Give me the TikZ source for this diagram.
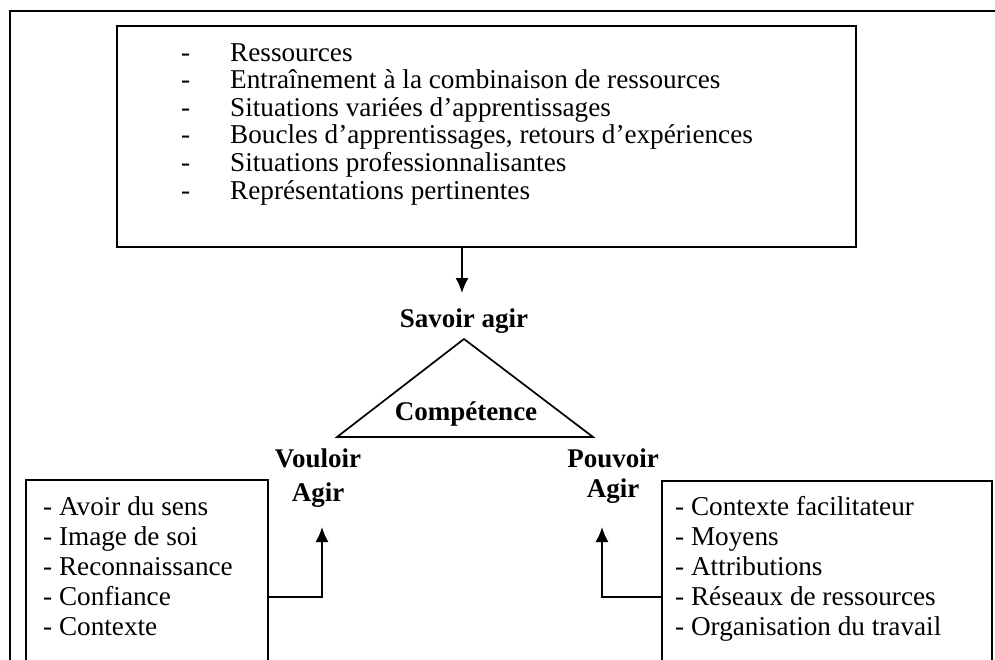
\documentclass[tikz,border=0pt]{standalone}
\usepackage{fontspec}
\setmainfont{Liberation Serif}
\usetikzlibrary{arrows.meta, positioning}

\tikzset{
  box/.style={draw, line width=1.7pt, anchor=north west, inner sep=0pt},
  lab/.style={font=\bfseries\fontsize{27}{34}\selectfont, inner sep=0pt, anchor=base},
  list/.style={font=\fontsize{27.2}{30}\selectfont, inner sep=0pt, anchor=base west},
  arr/.style={line width=1.7pt, -{Latex[length=15pt, width=13pt]}}
}

\begin{document}
\begin{tikzpicture}[x=1pt, y=-1pt]
\useasboundingbox (0,0) rectangle (995,659);
\clip (0,0) rectangle (995,659);

% outer frame
\draw[line width=2pt] (10,11) rectangle (1020,700);

% ressources
\node[box, minimum width=739pt, minimum height=221pt] (res) at (116,25) {};
\node[list, font=\fontsize{27.2}{27.6}\selectfont] (reslist) at (181,61)
  {\begin{tabular}[t]{@{}l@{\hspace{40pt}}l@{}}
   - & Ressources\\
   - & Entraînement à la combinaison de ressources\\
   - & Situations variées d’apprentissages\\
   - & Boucles d’apprentissages, retours d’expériences\\
   - & Situations professionnalisantes\\
   - & Représentations pertinentes
   \end{tabular}};

% triangle
\node[lab] (savoir) at (464,327) {Savoir agir};
\coordinate (in) at (462,293);
\draw[arr] (res.south -| in) -- (in);
\coordinate (apex) at (464,339);
\coordinate (bl) at (337,437);
\coordinate (br) at (593,437);
\draw[line width=1.7pt] (apex) -- (bl) -- (br) -- cycle;
\node[lab] (comp) at (466,420) {Compétence};

\node[lab] (vouloir) at (318,467.7)
  {\begin{tabular}[t]{@{}c@{}}Vouloir\\Agir\end{tabular}};
\node[lab, font=\bfseries\fontsize{27}{29.3}\selectfont] (pouvoir) at (613,467.7)
  {\begin{tabular}[t]{@{}c@{}}Pouvoir\\Agir\end{tabular}};

% vouloir agir
\node[box, minimum width=242pt, minimum height=250pt] (vbox) at (25,479) {};
\node[list] (vlist) at (43,515)
  {\begin{tabular}[t]{@{}l@{}}
   - Avoir du sens\\
   - Image de soi\\
   - Reconnaissance\\
   - Confiance\\
   - Contexte
   \end{tabular}};
\coordinate (vfoot) at (322,597);
\coordinate (vtip) at (322,527);
\draw[arr] (vbox.east |- vfoot) -| (vtip);

% pouvoir agir
\node[box, minimum width=330pt, minimum height=250pt] (pbox) at (661,480) {};
\node[list] (plist) at (675,515)
  {\begin{tabular}[t]{@{}l@{}}
   - Contexte facilitateur\\
   - Moyens\\
   - Attributions\\
   - Réseaux de ressources\\
   - Organisation du travail
   \end{tabular}};
\coordinate (pfoot) at (602,597);
\coordinate (ptip) at (602,527);
\draw[arr] (pbox.west |- pfoot) -| (ptip);
\end{tikzpicture}
\end{document}
